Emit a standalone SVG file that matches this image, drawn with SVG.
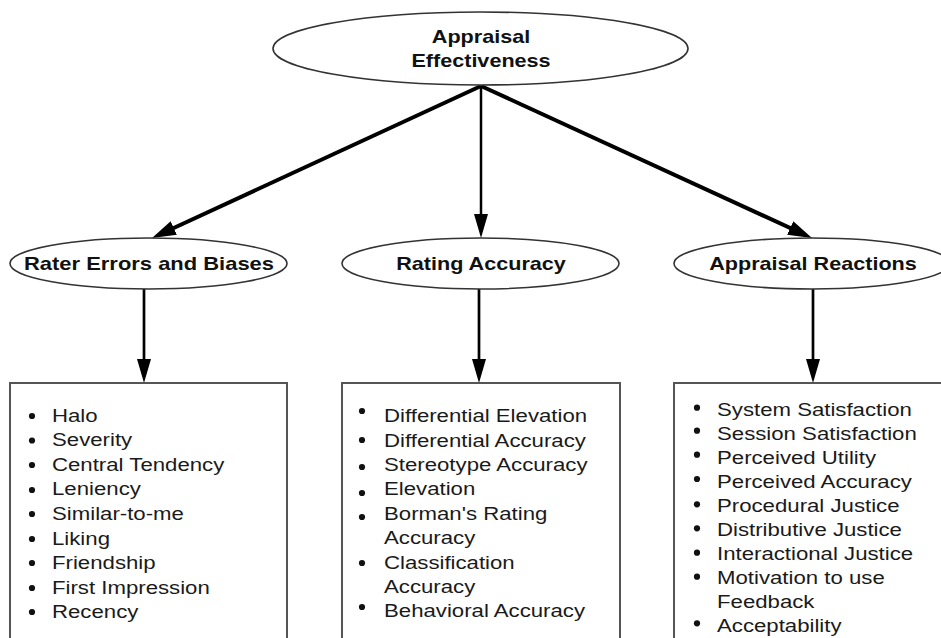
<svg xmlns="http://www.w3.org/2000/svg" width="941" height="638" viewBox="0 0 941 638">
<defs>
<style>
.ell{fill:#fff;stroke:#333;stroke-width:1.6}
.box{fill:#fff;stroke:#555;stroke-width:2}
.hd{font-family:"Liberation Sans",Arial,sans-serif;font-weight:bold;font-size:18px;fill:#111;text-anchor:middle}
.li{font-family:"Liberation Sans",Arial,sans-serif;font-size:18.5px;fill:#1a1a1a}
.bul circle{fill:#111}
.con{stroke:#000;fill:none}
</style>
<marker id="ah" markerUnits="userSpaceOnUse" markerWidth="24" markerHeight="16" refX="12" refY="7.5" orient="auto" viewBox="0 0 24 15">
<path d="M0,0 L24,7.5 L0,15 z" fill="#000"/>
</marker>
<marker id="ah2" markerUnits="userSpaceOnUse" markerWidth="24" markerHeight="14" refX="12" refY="7" orient="auto" viewBox="0 0 24 14">
<path d="M0,0 L24,7 L0,14 z" fill="#000"/>
</marker>
</defs>
<rect x="0" y="0" width="941" height="638" fill="#fff"/>

<g id="connectors">
<line class="con" x1="481" y1="86" x2="162.9" y2="233" stroke-width="4" marker-end="url(#ah)"/>
<line class="con" x1="481" y1="86" x2="481" y2="226" stroke-width="2.5" marker-end="url(#ah2)"/>
<line class="con" x1="481" y1="86" x2="801.1" y2="233" stroke-width="4" marker-end="url(#ah)"/>
<line class="con" x1="144" y1="289" x2="144" y2="371" stroke-width="2.7" marker-end="url(#ah2)"/>
<line class="con" x1="479" y1="289" x2="479" y2="371" stroke-width="2.7" marker-end="url(#ah2)"/>
<line class="con" x1="813" y1="289" x2="813" y2="371" stroke-width="2.7" marker-end="url(#ah2)"/>
</g>

<g id="node-effectiveness">
<ellipse class="ell" cx="480.5" cy="48.5" rx="207.5" ry="36.5"/>
<text class="hd" transform="translate(481,43) scale(1.2,1)">Appraisal</text>
<text class="hd" transform="translate(481,67) scale(1.2,1)">Effectiveness</text>
</g>

<g id="node-rater">
<ellipse class="ell" cx="148.5" cy="263.5" rx="138.5" ry="25.5"/>
<text class="hd" transform="translate(149,270) scale(1.22,1)">Rater Errors and Biases</text>
</g>

<g id="node-accuracy">
<ellipse class="ell" cx="480.5" cy="263.5" rx="138.5" ry="25.5"/>
<text class="hd" transform="translate(481,270) scale(1.2,1)">Rating Accuracy</text>
</g>

<g id="node-reactions">
<ellipse class="ell" cx="812" cy="263.5" rx="138" ry="25.5"/>
<text class="hd" transform="translate(813,270) scale(1.2,1)">Appraisal Reactions</text>
</g>

<g id="box-rater">
<rect class="box" x="10" y="383" width="277" height="270"/>
<g class="bul">
<circle cx="32" cy="416" r="3.1"/>
<circle cx="32" cy="440.5" r="3.1"/>
<circle cx="32" cy="465" r="3.1"/>
<circle cx="32" cy="490" r="3.1"/>
<circle cx="32" cy="514" r="3.1"/>
<circle cx="32" cy="539" r="3.1"/>
<circle cx="32" cy="563" r="3.1"/>
<circle cx="32" cy="588" r="3.1"/>
<circle cx="32" cy="612" r="3.1"/>
</g>
<g transform="translate(52,0) scale(1.2,1)">
<text class="li" x="0" y="421.7">Halo</text>
<text class="li" x="0" y="446.3">Severity</text>
<text class="li" x="0" y="470.9">Central Tendency</text>
<text class="li" x="0" y="495.5">Leniency</text>
<text class="li" x="0" y="520.1">Similar-to-me</text>
<text class="li" x="0" y="544.7">Liking</text>
<text class="li" x="0" y="569.3">Friendship</text>
<text class="li" x="0" y="593.9">First Impression</text>
<text class="li" x="0" y="618.3">Recency</text>
</g>
</g>

<g id="box-accuracy">
<rect class="box" x="342" y="383" width="278" height="270"/>
<g class="bul">
<circle cx="362" cy="411" r="3.1"/>
<circle cx="362" cy="440" r="3.1"/>
<circle cx="362" cy="467" r="3.1"/>
<circle cx="362" cy="493" r="3.1"/>
<circle cx="362" cy="517" r="3.1"/>
<circle cx="362" cy="563" r="3.1"/>
<circle cx="362" cy="607" r="3.1"/>
</g>
<g transform="translate(384,0) scale(1.2,1)">
<text class="li" x="0" y="422.3">Differential Elevation</text>
<text class="li" x="0" y="446.7">Differential Accuracy</text>
<text class="li" x="0" y="471.1">Stereotype Accuracy</text>
<text class="li" x="0" y="495.5">Elevation</text>
<text class="li" x="0" y="519.9">Borman's Rating</text>
<text class="li" x="0" y="544.3">Accuracy</text>
<text class="li" x="0" y="568.7">Classification</text>
<text class="li" x="0" y="593.1">Accuracy</text>
<text class="li" x="0" y="617.3">Behavioral Accuracy</text>
</g>
</g>

<g id="box-reactions">
<rect class="box" x="674" y="383" width="290" height="270"/>
<g class="bul">
<circle cx="697" cy="407.7" r="3.1"/>
<circle cx="697" cy="430.7" r="3.1"/>
<circle cx="697" cy="454.7" r="3.1"/>
<circle cx="697" cy="479" r="3.1"/>
<circle cx="697" cy="504.3" r="3.1"/>
<circle cx="697" cy="528.3" r="3.1"/>
<circle cx="697" cy="552.7" r="3.1"/>
<circle cx="697" cy="576.7" r="3.1"/>
<circle cx="697" cy="623.3" r="3.1"/>
</g>
<g transform="translate(717,0) scale(1.2,1)">
<text class="li" x="0" y="416.5">System Satisfaction</text>
<text class="li" x="0" y="440.4">Session Satisfaction</text>
<text class="li" x="0" y="464.3">Perceived Utility</text>
<text class="li" x="0" y="488.2">Perceived Accuracy</text>
<text class="li" x="0" y="512.1">Procedural Justice</text>
<text class="li" x="0" y="536">Distributive Justice</text>
<text class="li" x="0" y="559.9">Interactional Justice</text>
<text class="li" x="0" y="583.8">Motivation to use</text>
<text class="li" x="0" y="607.7">Feedback</text>
<text class="li" x="0" y="631.6">Acceptability</text>
</g>
</g>
</svg>
